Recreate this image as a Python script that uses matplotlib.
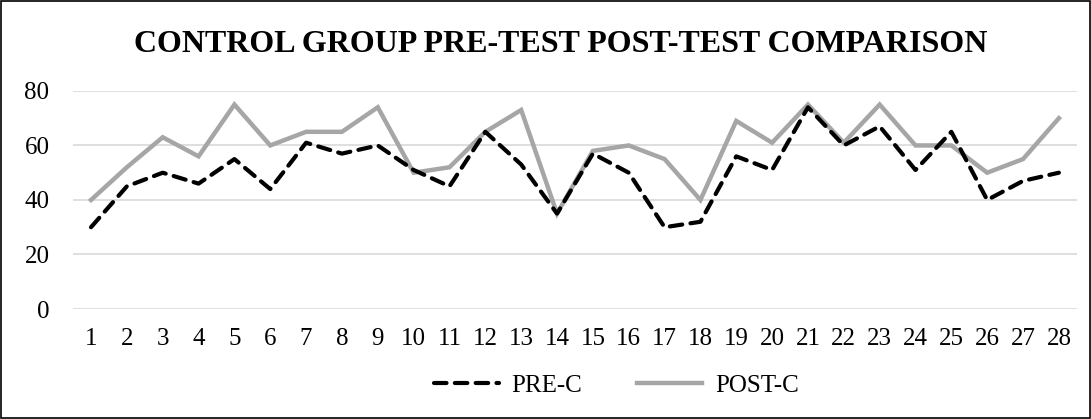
import matplotlib.pyplot as plt

students = list(range(1, 29))
pre_c = [30, 45, 50, 46, 55, 44, 61, 57, 60, 51, 45, 65, 53, 35, 57, 50, 30, 32, 56, 51, 74, 60, 67, 51, 65, 40, 47, 50]
post_c = [40, 52, 63, 56, 75, 60, 65, 65, 74, 50, 52, 65, 73, 35, 58, 60, 55, 40, 69, 61, 75, 61, 75, 60, 60, 50, 55, 70]

plt.rcParams['font.family'] = ['Liberation Serif', 'DejaVu Serif']

fig = plt.figure(figsize=(10.91, 4.19), dpi=100)
ax = fig.add_axes([0.067, 0.2625, 0.92, 0.5205])

ax.plot(students, post_c, color='#a6a6a6', lw=3.2, label='POST-C', solid_joinstyle='miter')
ax.plot(students, pre_c, color='black', lw=3, ls=(0, (3, 2)), label='PRE-C', dash_capstyle='round')

ax.set_xlim(0.5, 28.5)
ax.set_ylim(0, 80)
ax.set_yticks([0, 20, 40, 60, 80])
ax.set_xticks(students)
ax.tick_params(length=0, labelsize=18, pad=14)
ax.tick_params(axis='y', pad=17)
ax.grid(axis='y', color='#d9d9d9', lw=1.2)
ax.set_axisbelow(True)
for s in ax.spines.values():
    s.set_visible(False)

fig.text(0.514, 0.893, 'CONTROL GROUP PRE-TEST POST-TEST COMPARISON',
         ha='center', va='center', fontsize=23, fontweight='bold')

h, l = ax.get_legend_handles_labels()
fig.legend([h[1], h[0]], [l[1], l[0]], loc='center', bbox_to_anchor=(0.565, 0.08),
           ncol=2, frameon=False, fontsize=18, handlelength=2.6, columnspacing=2.2,
           handletextpad=0.5)

fig.patches.append(plt.Rectangle((0.001, 0.002), 0.998, 0.996, transform=fig.transFigure,
                                 fill=False, edgecolor='black', lw=1.2))

fig.savefig('out.png', dpi=100)
